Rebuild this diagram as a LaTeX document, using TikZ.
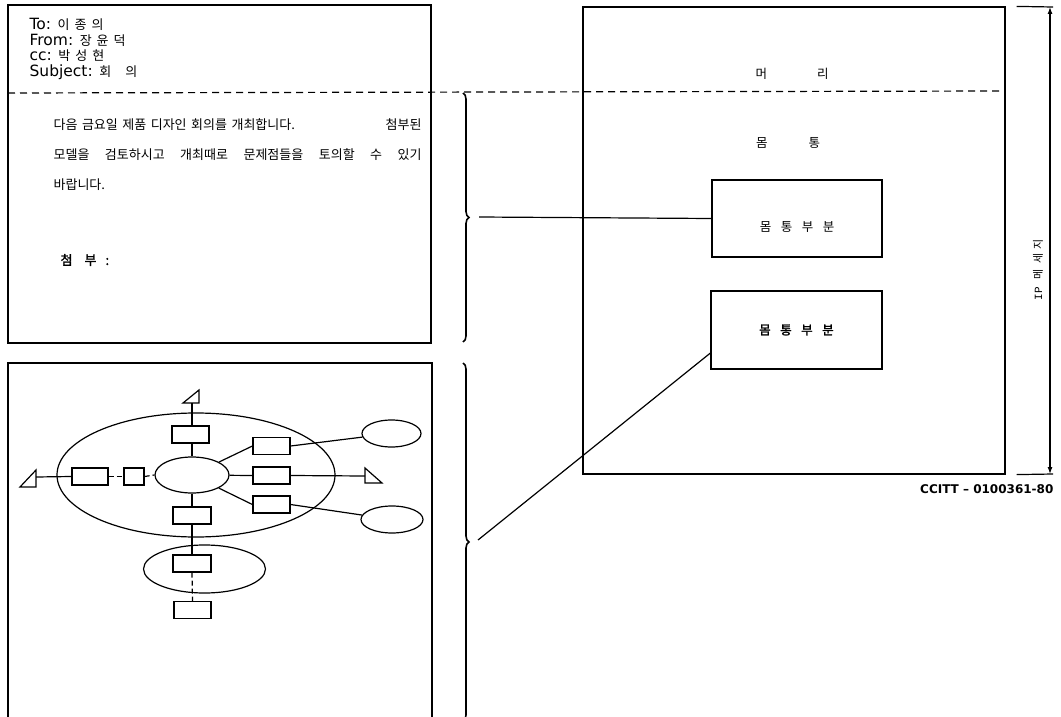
\documentclass[tikz,border=0pt]{standalone}
\usepackage{fontspec}
\setmainfont{Noto Sans CJK KR}
\setmonofont{Liberation Mono}
\newfontfamily\lat{DejaVu Sans}
\newfontfamily\krbold[FakeBold=2]{Noto Sans CJK KR}
\newcommand\hangul{\rmfamily\fontsize{13}{15}\selectfont\spaceskip=5pt\relax}
\usetikzlibrary{shapes.geometric,decorations.pathreplacing,arrows.meta}

\begin{document}
\begin{tikzpicture}[x=1pt,y=-1pt,line width=1.2pt,
    box/.style={draw,inner sep=0pt,minimum width=37pt,minimum height=17pt},
    oval/.style={draw,ellipse,inner sep=0pt},
    part/.style={draw,inner sep=0pt,minimum width=170pt,minimum height=77pt},
    hdr/.style={anchor=west,inner sep=0pt,font=\lat\fontsize{15.5}{17}\selectfont},
    txt/.style={anchor=west,inner sep=0pt,font=\fontsize{13}{15}\selectfont},
    lbl/.style={inner sep=0pt,font=\fontsize{12.5}{14}\selectfont},
    brc/.style={decorate,decoration={brace,amplitude=6pt},line width=1.6pt},
    divide/.style={dash pattern=on 7pt off 5pt,line width=1.2pt},
    link/.style={dash pattern=on 5pt off 3pt},
    tip/.style={{Latex[length=7pt,width=5pt]}-{Latex[length=7pt,width=5pt]}}]
\useasboundingbox (0,0) rectangle (1061,717);

% memo frames
\draw (8,5) rectangle (431,343);
\draw (8,717) |- (432,363) -- (432,717);
\draw[divide] (8,93) -- (1005,91);

\node[hdr] (to) at (29,24) {To: \hangul 이 종 의};
\node[hdr] (from) at (29,40) {From: \hangul 장 윤 덕};
\node[hdr] (cc) at (29,56) {cc: \hangul 박 성 현};
\node[hdr] (subj) at (29,72) {Subject: \hangul 회\hspace{14pt}의};

\node[txt] (line1) at (53,125) {\makebox[368pt][l]{\spaceskip=4.5pt 다음 금요일 제품 디자인 회의를 개최합니다.\hfill 첨부된}};
\node[txt] (line2) at (53,155) {\makebox[368pt][s]{모델을 검토하시고 개최때로 문제점들을 토의할 수 있기}};
\node[txt] (line3) at (53,185) {바랍니다.};
\node[txt,font=\krbold\fontsize{13}{15}\selectfont] (attach) at (60,260) {첨\hspace{12pt}부\hspace{9pt}:};

% attached model
\node[oval,minimum width=278pt,minimum height=124pt] (bigell) at (196,475) {};
\node[oval,minimum width=122pt,minimum height=48pt] (subell) at (204.5,569) {};
\node[oval,minimum width=74pt,minimum height=36pt] (core) at (192,475) {};
\node[oval,minimum width=59pt,minimum height=27pt] (outA) at (391.5,433.5) {};
\node[oval,minimum width=62pt,minimum height=27pt] (outB) at (392,519.5) {};
\node[box] (topbox) at (190.5,434.5) {};
\node[box,minimum width=36pt] (leftbox) at (90,476.5) {};
\node[box,minimum width=20pt] (sqbox) at (134,476.5) {};
\node[box] (rbox1) at (271.5,446) {};
\node[box] (rbox2) at (271.5,475.5) {};
\node[box] (rbox3) at (271.5,504.5) {};
\node[box,minimum width=38pt] (midbox) at (192,515.5) {};
\node[box,minimum width=38pt] (subbox) at (192,563.5) {};
\node[box] (endbox) at (192.5,610) {};

\coordinate (tipN) at (192,403);
\coordinate (tipW) at (36,477);
\coordinate (tipE) at (365,476);
\draw (tipN) ++(-9,0) -- ++(16,-13) -- ++(0,13) -- cycle;
\draw (tipW) ++(0,10) -- ++(-16,0) -- ++(16,-17) -- cycle;
\draw (tipE) ++(0,-8) -- ++(0,15) -- ++(17,0) -- cycle;

\draw (tipN) -- (tipN |- topbox.north);
\draw (core.north) -- (core.north |- topbox.south);
\draw (tipW) -- (leftbox.west);
\draw[link] (leftbox.east) -- (sqbox.west);
\draw[link] (sqbox.east) -- (core.west);
\draw (core) -- (rbox1.west);
\draw (core) -- (rbox2.west);
\draw (core) -- (rbox3.west);
\draw (rbox1.east) -- (outA);
\draw (rbox2.east) -- (tipE);
\draw (rbox3.east) -- (outB);
\draw (core.south) -- (midbox.north);
\draw (midbox.south) -- (subbox.north);
\draw[link] (subbox.south) -- (endbox.north);

% IP message
\node[draw,inner sep=0pt,minimum width=422pt,minimum height=467pt] (ipmsg) at (794,240.5) {};
\node[lbl] (head) at (792,74) {머\hspace{50pt}리};
\node[lbl] (body) at (788,143) {몸\hspace{41pt}통};
\node[part] (partA) at (797,218.5) {};
\node[lbl] (partAtxt) at ([yshift=-8pt]partA.center) {몸\hspace{9.5pt}통\hspace{9.5pt}부\hspace{9.5pt}분};
\node[part,minimum width=171pt,minimum height=78pt,font=\krbold\fontsize{12.5}{14}\selectfont] (partB) at (796.5,330) {몸\hspace{9.5pt}통\hspace{9.5pt}부\hspace{9.5pt}분};

\draw[brc] (463,93) -- (463,342);
\draw[brc] (463,363) -- (463,721);
\coordinate (hdrtip) at (479,217);
\coordinate (bodytip) at (478,540);
\draw (hdrtip) -- (partA.west);
\draw (bodytip) -- ([yshift=-23pt]partB.west);

\coordinate (dimtop) at (1050,7);
\coordinate (dimbot) at (1050,474);
\draw ([xshift=11pt]ipmsg.north east) -- ([xshift=3pt]dimtop);
\draw ([xshift=11pt]ipmsg.south east) -- ([xshift=3pt]dimbot);
\draw[tip] (dimtop) -- (dimbot);
\node[rotate=90,inner sep=0pt,font=\fontsize{11}{13}\selectfont] (dimlbl) at (1038,270) {\texttt{IP}\hspace{8pt}메\hspace{5pt}세\hspace{4pt}지};
\node[anchor=east,inner sep=0pt,font=\lat\bfseries\fontsize{12}{14}\selectfont] (ref) at (1054,489) {CCITT – 0100361-80};
\end{tikzpicture}
\end{document}
